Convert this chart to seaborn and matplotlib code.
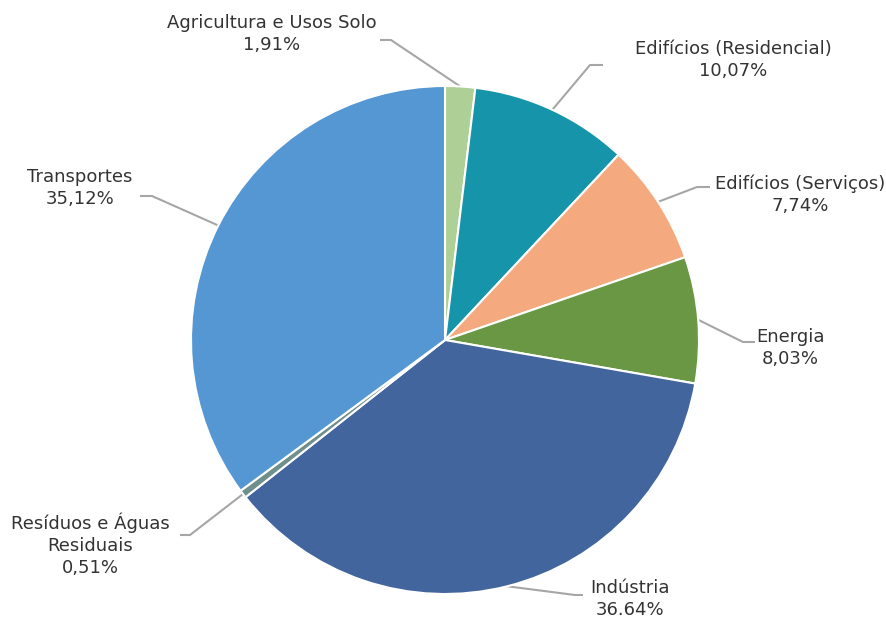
import matplotlib
matplotlib.use("Agg")
import matplotlib.pyplot as plt
import seaborn as sns
import numpy as np

sns.set_theme(style="white")
plt.rcParams['font.family'] = ['DejaVu Sans']

categories = ["Agricultura e Usos Solo", "Edifícios (Residencial)", "Edifícios (Serviços)",
              "Energia", "Indústria", "Resíduos e Águas\nResiduais", "Transportes"]
values = [1.91, 10.07, 7.74, 8.03, 36.64, 0.51, 35.12]
value_labels = ["1,91%", "10,07%", "7,74%", "8,03%", "36.64%", "0,51%", "35,12%"]
colors = ["#AECF95", "#1594AA", "#F4AA7E", "#6A9744", "#43659D", "#6F8F8C", "#5597D3"]

W, H = 887, 619
CX, CY, R = 445, 340, 254


def px(x, y):
    """Pixel position -> data coordinates (pie radius = 1)."""
    return (x - CX) / R, (CY - y) / R


fig = plt.figure(figsize=(W / 100, H / 100), dpi=100)
ax = fig.add_axes([0, 0, 1, 1])
wedges, _ = ax.pie(values, colors=colors, startangle=90, counterclock=False,
                   radius=1, center=(0, 0),
                   wedgeprops=dict(edgecolor="white", linewidth=1.5))
ax.set_xlim(-CX / R, (W - CX) / R)
ax.set_ylim(-(H - CY) / R, CY / R)
ax.set_aspect("equal")
ax.axis("off")

# label centre (pixels), elbow start, elbow end (pixels)
label_pos = [(272, 34), (733, 60), (800, 195), (790, 348), (630, 599), (90, 545), (80, 188)]
elbows = [((391, 40), (380, 40)), ((590, 65), (603, 65)), ((697, 187), (710, 187)),
          ((743, 342), (755, 342)), ((575, 595), (583, 595)), ((190, 535), (180, 535)),
          ((152, 196), (140, 196))]

total = sum(values)
start = 90.0
for i, v in enumerate(values):
    theta = np.deg2rad(start - v / total * 360 / 2)
    start -= v / total * 360
    x0, y0 = np.cos(theta), np.sin(theta)
    (ex1, ey1), (ex2, ey2) = elbows[i]
    p1 = px(ex1, ey1)
    p2 = px(ex2, ey2)
    ax.plot([x0, p1[0], p2[0]], [y0, p1[1], p2[1]], color="#A6A6A6", lw=1.5,
            solid_capstyle="butt", zorder=0)
    lx, ly = px(*label_pos[i])
    ax.text(lx, ly, f"{categories[i]}\n{value_labels[i]}", ha="center", va="center",
            fontsize=13, color="#333333", linespacing=1.3)

fig.savefig("out.png", dpi=100)
